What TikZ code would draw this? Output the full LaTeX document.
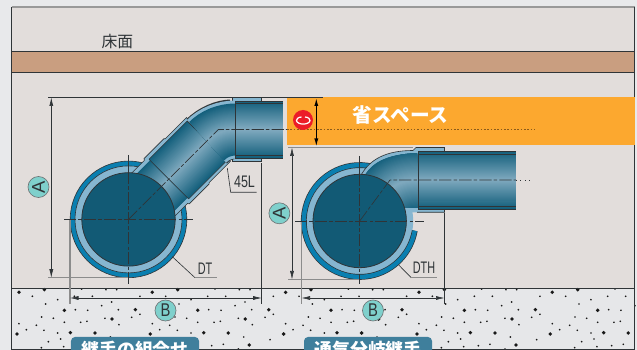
\documentclass[tikz,border=0pt]{standalone}
\usepackage{fontspec}
\setmainfont{Liberation Sans}
\newfontfamily\cjkfont{Noto Sans CJK JP}
\usetikzlibrary{arrows.meta}
\usetikzlibrary{positioning}
\definecolor{wallgray}{HTML}{E2DDDB}
\definecolor{pagegray}{HTML}{E8E9EB}
\definecolor{floorbrown}{HTML}{C99E80}
\definecolor{spaceorange}{HTML}{FCA82F}
\definecolor{concretegray}{HTML}{E6E7E9}
\definecolor{inkgray}{HTML}{2F3437}
\definecolor{pipedark}{HTML}{135F7C}
\definecolor{pipelight}{HTML}{82ABC0}
\definecolor{shellblue}{HTML}{86B6D0}
\definecolor{ringblue}{HTML}{0A7FB0}
\definecolor{corehue}{HTML}{125A75}
\definecolor{markteal}{HTML}{7FD0CC}
\definecolor{tagblue}{HTML}{3F7F9C}
\definecolor{markred}{HTML}{EC1C28}
\tikzset{
    dim/.style = {inkgray,line width=0.35pt,{Latex[length=1.7mm,width=0.8mm]}-{Latex[length=1.7mm,width=0.8mm]}},
    ext/.style = {inkgray,line width=0.4pt},
    extgray/.style = {black!45,line width=0.7pt},
    axisline/.style = {inkgray,line width=0.35pt,dash pattern=on 7pt off 1.2pt on 2pt off 1.2pt},
    thinline/.style = {inkgray,line width=0.35pt},
    shell/.style = {fill=shellblue,draw=inkgray,line width=0.35pt},
    circlemark/.style = {circle,fill=markteal,draw=inkgray!70,line width=0.35pt,minimum size=4.2mm,inner sep=0,text=inkgray,font=\fontsize{10.5}{11}\selectfont},
    tagtext/.style = {inner sep=0,text=inkgray,font=\fontsize{9.5}{10}\selectfont},
    tagbox/.style = {fill=tagblue,rounded corners=0.8mm,minimum width=25.6mm,minimum height=5.2mm,inner sep=0,text=white,font=\cjkfont\bfseries\fontsize{10.2}{11}\selectfont}
}
% nested strokes give the shine across a pipe
\newcommand\pipestroke[2]{
    \foreach \n in {0,...,27}{
        \pgfmathsetmacro\part{1-\n/28}
        \pgfmathsetmacro\mix{100*\part}
        \draw[line width=#1*2*\part*0.2mm,pipedark!\mix!pipelight] #2;
    }
}
\begin{document}
\begin{tikzpicture}[x=0.2mm,y=-0.2mm]
        \newcommand\tilestep{133.33}
        \useasboundingbox (0,0) rectangle (637,350);
        \clip (0,0) rectangle (637,350);
        % Background
        \fill[pagegray] (0,0) rectangle (637,350);
        \fill[wallgray] (11.5,7) rectangle (634.5,288.5);
        \filldraw[floorbrown,draw=inkgray,line width=0.45pt] (11.5,51.5) rectangle (634.5,72.5);
        \fill[concretegray] (11.5,288.5) rectangle (634.5,349);
        % Concrete
        \foreach \k in {-1,0,1,2,3}{
            \foreach \x/\y in {152.3/292.3,177.7/289.7,197.7/310.3,268.7/309.7,245.3/319,203.7/332.7,228.3/333,150.3/334,249.3/345}
                \fill[black!90] (\x+\k*\tilestep,\y) circle[radius=1.9];
            \foreach \x/\y in {165.7/296.3,191/299.7,207.7/296.3,225.7/296.3,215/289,239.3/289.7,250/289.7,179/304,245/302,235/305.7,208.7/309.7,221/310.3,251.7/309.7,175/317,186.7/318.3,197.7/322.3,214/322.3,220.3/321.3,238.3/318.3,252.3/324.7,152.3/323.7,169.7/325.3,159.7/329.7,177.3/330.3,191/333,243.7/337,211.7/345.7,223.3/344.3,273.3/296.3,265/317.3,273.3/314.3,270/339.7,238.3/349,181.7/341.7,194/339,197/346.7,174.7/347.7}
                \fill[black!90] (\x+\k*\tilestep,\y) circle[radius=0.95];
        }
        % Frame
        \draw[black!40,line width=0.7pt] (11.5,7) -- (634.5,7);
        \draw[inkgray,line width=0.45pt] (11.5,7) -- (11.5,349) -- (634.5,349) -- (634.5,7);
        \draw[inkgray,line width=0.6pt] (11.5,288.5) -- (634.5,288.5);
        % Saved space
        \fill[spaceorange] (287,97) rectangle (634.5,145);
        % Left joint
        \filldraw[fill=ringblue,draw=inkgray,line width=0.35pt] (128.5,219.4) circle[radius=58.3];
        \filldraw[fill=shellblue,draw=inkgray,line width=0.35pt] (128.5,219.4) circle[radius=53.5];
        \begin{scope}[shift={(128.5,219.4)},rotate=45]
            \filldraw[shell] (34,-30.5) -- (53,-30.5) -- (54,-32) -- (82,-32) -- (83,-31) -- (113,-31) -- (113,31) -- (83,31) -- (82,32) -- (54,32) -- (53,30.5) -- (34,30.5) -- cycle;
            \pipestroke{26.5}{(30,0) -- (57,0)}
            \pipestroke{28}{(57,0) -- (111,0)}
            \draw[thinline] (57,-28) -- (57,28) (111,-28) -- (111,28);
            \draw[thinline] (57,-28) -- (111,-28) (57,28) -- (111,28);
        \end{scope}
        \filldraw[shell] (232,97.5) rectangle (261.7,161.5);
        \draw[line width=60*0.2mm,inkgray] (206.7,141.2) .. controls (214.2,133.7) and (224.4,129.5) .. (232,129.5);
        \draw[line width=58*0.2mm,shellblue] (206.7,141.2) .. controls (214.2,133.7) and (224.4,129.5) .. (236,129.5);
        \pipestroke{26}{(206.7,141.2) .. controls (214.2,133.7) and (224.4,129.5) .. (236,129.5)}
        \pipestroke{28.5}{(235,129.5) -- (283,129.5)}
        \draw[thinline,line width=0.5pt] (283,101) -- (235,101) -- (235,158) -- (283,158);
        \draw[thinline,line width=0.5pt] (235,103.5) -- (283,103.5) (235,155.5) -- (283,155.5);
        \filldraw[fill=corehue,draw=inkgray,line width=0.45pt] (128.5,219.4) circle[radius=46.7];
        % Right joint
        \fill[shellblue] (359.7,221) circle[radius=53.5];
        \draw[inkgray,line width=5.8*0.2mm] (359.7,221) ++(-76:55.9) arc[start angle=-76,end angle=-350,radius=55.9];
        \draw[ringblue,line width=4.4*0.2mm] (359.7,221) ++(-76:55.9) arc[start angle=-76,end angle=-350,radius=55.9];
        \fill[shellblue] (361.7,174) .. controls (370,160) and (385,150.5) .. (413,150.5) -- (416,147.5) -- (444.5,147.5) -- (444.5,212.3) -- (406,212.3) -- (380,215) -- cycle;
        \draw[thinline] (361.7,174) .. controls (370,160) and (385,150.5) .. (413,150.5) -- (416,147.5) -- (444.5,147.5) -- (444.5,212.3) -- (417,212.3);
        \begin{scope}
            \clip (365,175) .. controls (372,163) and (387,154) .. (418,153) -- (418,208) -- (380,208) -- cycle;
            \pipestroke{30}{(365,222) .. controls (385,190) and (395,180) .. (418,180)}
        \end{scope}
        \pipestroke{28.7}{(418,180) -- (516,180)}
        \draw[thinline,line width=0.5pt] (516,151.5) -- (418,151.5) -- (418,209) -- (516,209);
        \draw[thinline,line width=0.5pt] (418,154.5) -- (516,154.5) (418,206) -- (516,206);
        \filldraw[fill=corehue,draw=inkgray,line width=0.45pt] (359.7,221) circle[radius=46.7];
        % Dimension points
        \path (48,97.5) coordinate (atl)
            (232,97.5) coordinate (atr)
            (48,277.7) coordinate (abl)
            (128.5,277.7) coordinate (abr)
            (51.3,97.5) coordinate (aup)
            (51.3,277.7) coordinate (adn)
            (288,147.5) coordinate (ctl)
            (413,147.5) coordinate (ctr)
            (288,279.5) coordinate (cbl)
            (359.7,279.5) coordinate (cbr)
            (292,147.5) coordinate (cup)
            (292,279.5) coordinate (cdn)
            (70,219.4) coordinate (btl)
            (70,304) coordinate (bbl)
            (261.7,163) coordinate (btr)
            (261.7,304) coordinate (bbr)
            (70,298) coordinate (bl)
            (261.7,298) coordinate (br)
            (301.5,221) coordinate (dtl)
            (301.5,304) coordinate (dbl)
            (444.5,213) coordinate (dtr)
            (444.5,304) coordinate (dbr)
            (301.5,298) coordinate (dl)
            (444.5,298) coordinate (dr)
            (316.3,97.5) coordinate (sup)
            (316.3,147) coordinate (sdn)
            (262,97.5) coordinate (stl)
            (323,97.5) coordinate (str)
        ;
        % Dimensions
        \foreach \src/\dest in {atl/atr,btr/bbr,dtr/dbr,stl/str}
            \draw[ext] (\src) to (\dest);
        \foreach \src/\dest in {abl/abr,ctl/ctr,cbl/cbr,btl/bbl,dtl/dbl}
            \draw[extgray] (\src) to (\dest);
        \foreach \src/\dest in {aup/adn,cup/cdn,bl/br,dl/dr}
            \draw[dim] (\src) to (\dest);
        \draw[dim,black,line width=0.8pt] (sup) to (sdn);
        % Axes
        \draw[thinline] (128.5,155) -- (128.5,172);
        \draw[axisline] (128.5,172) -- (128.5,284);
        \draw[axisline] (64,219.4) -- (193,219.4);
        \draw[axisline] (128.5,219.4) -- (218.4,129.5) -- (287,129.5);
        \draw[spaceorange!55!black,line width=0.9pt,dash pattern=on 0.9pt off 1pt] (287,129.5) -- (535,129.5);
        \draw[thinline] (359.7,156) -- (359.7,174);
        \draw[axisline] (359.7,174) -- (359.7,284);
        \draw[axisline] (295,221) -- (424,221);
        \draw[axisline] (359.7,221) -- (390,180) -- (516,180);
        \draw[inkgray,line width=0.5pt,dotted] (516,180) -- (533,180);
        % Part names
        \node[tagtext,xscale=0.75] (elbow) at (244.5,181.5) {45L};
        \node[tagtext,xscale=0.65] (dt) at (205,268.5) {DT};
        \node[tagtext,xscale=0.65] (dth) at (424,267.5) {DTH};
        \path (227.3,168) coordinate (elbowa) (230.7,192.3) coordinate (elbowb) (256.5,192.3) coordinate (elbowc)
            (172.3,256.7) coordinate (dta) (195,277.7) coordinate (dtb) (217,277.7) coordinate (dtc)
            (398.7,265) coordinate (dtha) (411.3,277.7) coordinate (dthb) (437,277.7) coordinate (dthc)
        ;
        \draw[thinline] (elbowa) to (elbowb) to (elbowc);
        \draw[thinline] (dta) to (dtb);
        \draw[extgray] (dtb) to (dtc);
        \draw[thinline] (dtha) to (dthb);
        \draw[extgray] (dthb) to (dthc);
        % Marks
        \node[circlemark,rotate=90] (marka) at (38.5,187) {A};
        \node[circlemark,rotate=90] (markc) at (279.4,213.3) {A};
        \node[circlemark] (markb) at (165.5,310.5) {\scalebox{0.8}[1]{B}};
        \node[circlemark] (markd) at (373,310.5) {\scalebox{0.8}[1]{B}};
        % Labels
        \node[text=inkgray,font=\cjkfont\fontsize{9}{10}\selectfont,inner sep=0] (floor) at (117.5,41) {床面};
        \node[text=white,font=\cjkfont\bfseries\fontsize{11.2}{12}\selectfont,inner sep=0] (space) at (400.5,115) {省スペース};
        \node[tagbox] (tagl) at (135,350) {継手の組合せ};
        \node[tagbox] (tagr) at (368,350) {通気分岐継手};
        % Red sign
        \fill[markred] (303,120) circle[radius=10];
        \draw[white,line width=0.7pt] (301.5,117) .. controls (298,117.2) and (296.5,119) .. (296.5,120.5) .. controls (296.5,122.5) and (299.8,124.1) .. (303.3,124.1) .. controls (306.8,124.1) and (310,122.5) .. (310,120.5) .. controls (310,119) and (308.5,117.2) .. (305,117);
    \end{tikzpicture}
\end{document}
